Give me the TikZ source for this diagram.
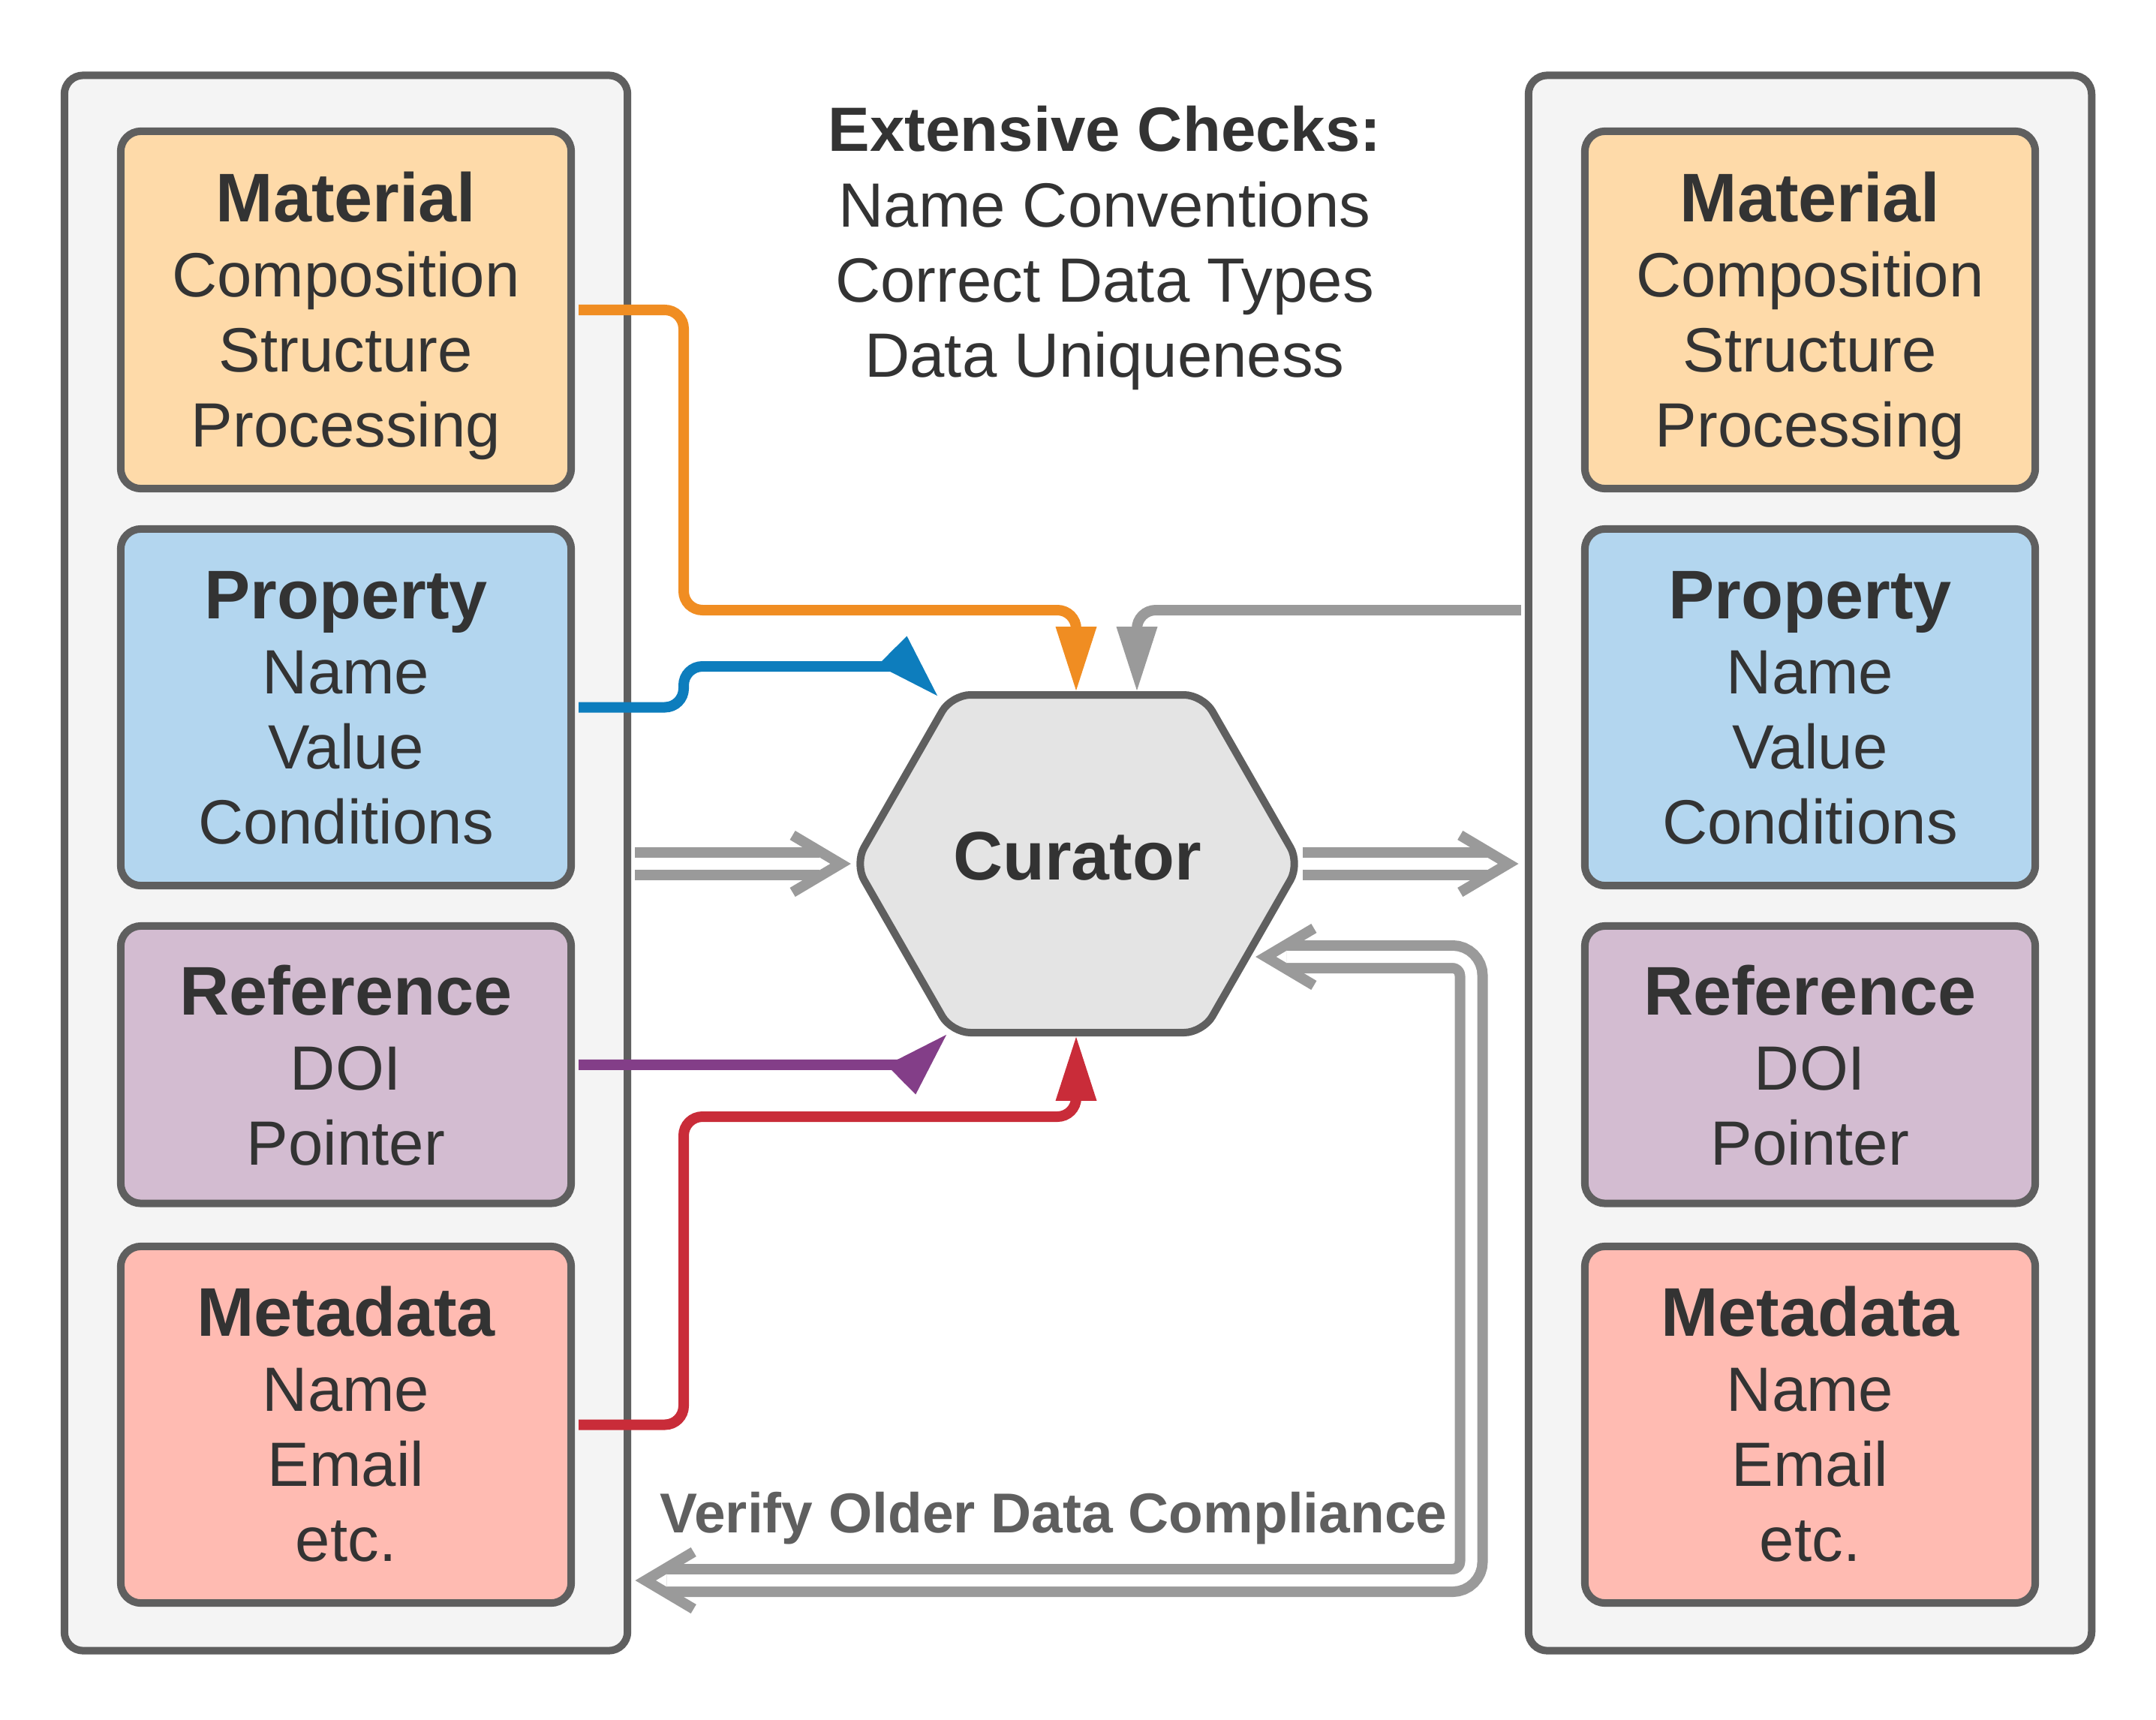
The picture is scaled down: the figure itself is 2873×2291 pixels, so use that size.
\documentclass[tikz,border=0pt]{standalone}
\usepackage{fontspec}
\setmainfont{Liberation Sans}
\usetikzlibrary{arrows.meta,calc}
\definecolor{strokeg}{HTML}{5F5F5F}
\definecolor{panelf}{HTML}{F4F4F4}
\definecolor{txt}{HTML}{333333}
\definecolor{matf}{HTML}{FEDAA9}
\definecolor{propf}{HTML}{B3D6EF}
\definecolor{reff}{HTML}{D3BCD1}
\definecolor{metaf}{HTML}{FFBBB2}
\definecolor{hexf}{HTML}{E4E4E4}
\definecolor{corange}{HTML}{F08D22}
\definecolor{cblue}{HTML}{0D7DBD}
\definecolor{cpurple}{HTML}{833E88}
\definecolor{cred}{HTML}{C92C39}
\definecolor{cgray}{HTML}{9A9A9A}
\newcommand\bodyfont{\fontsize{23.7pt}{28.45pt}\selectfont}
\newcommand\titlefont{\fontsize{26.1pt}{28.45pt}\selectfont\bfseries}
\begin{document}
\begin{tikzpicture}[x=0.01cm,y=-0.01cm]
\tikzset{
 panel/.style={draw=strokeg, fill=panelf, line width=0.1cm, rounded corners=0.25cm, minimum width=7.5cm, minimum height=20.98cm, inner sep=0pt},
 databox/.style={draw=strokeg, line width=0.1cm, rounded corners=0.27cm, minimum width=6cm, inner sep=0pt},
 boxtext/.style={anchor=base, inner sep=0pt, text=txt, font=\bodyfont},
 conn/.style={line width=0.14cm, rounded corners=0.25cm, shorten <=0.05cm, -{Triangle[length=0.85cm,width=0.55cm,line width=0pt]}},
 dbl/.style={draw=cgray, line width=0.14cm, double=white, double distance=0.16cm, rounded corners=0.25cm},
 chev/.style={draw=cgray, line width=0.14cm, miter limit=10},
}
\useasboundingbox (0,0) rectangle (2873,2291);
% panels
\node[panel] (lpanel) at (461,1150) {};
\node[panel] (rpanel) at (2412,1150) {};
% boxes
\foreach \s/\xc in {l/461,r/2412}{
  \node[databox, fill=matf, minimum height=4.76cm] (\s mat) at (\xc,413) {};
  \node[boxtext] (\s matT) at ($(\s mat.center)+(0,-118)$) {\begin{tabular}[t]{@{}c@{}}{\titlefont Material}\\Composition\\Structure\\Processing\end{tabular}};
  \node[databox, fill=propf, minimum height=4.75cm] (\s prop) at (\xc,942.5) {};
  \node[boxtext] (\s propT) at ($(\s prop.center)+(0,-118)$) {\begin{tabular}[t]{@{}c@{}}{\titlefont Property}\\Name\\Value\\Conditions\end{tabular}};
  \node[databox, fill=reff, minimum height=3.695cm] (\s ref) at (\xc,1418.75) {};
  \node[boxtext] (\s refT) at ($(\s ref.center)+(0,-66)$) {\begin{tabular}[t]{@{}c@{}}{\titlefont Reference}\\DOI\\Pointer\end{tabular}};
  \node[databox, fill=metaf, minimum height=4.75cm] (\s meta) at (\xc,1898.5) {};
  \node[boxtext] (\s metaT) at ($(\s meta.center)+(0,-118)$) {\begin{tabular}[t]{@{}c@{}}{\titlefont Metadata}\\Name\\Email\\etc.\end{tabular}};
}
% checks text
\node[boxtext] (checks) at (1472,202) {\begin{tabular}[t]{@{}c@{}}\textbf{Extensive Checks:}\\Name Conventions\\Correct Data Types\\Data Uniqueness\end{tabular}};
% hexagon
\draw[draw=strokeg, fill=hexf, line width=0.1cm, rounded corners=0.25cm]
  (1139,1151) -- (1268,926) -- (1603,926) -- (1732,1151) -- (1603,1376) -- (1268,1376) -- cycle;
\node[minimum width=5.93cm, minimum height=4.5cm, inner sep=0pt, text=txt,
  font=\fontsize{26pt}{30pt}\selectfont\bfseries, text height=0.64cm, text depth=0.22cm] (hex) at (1435.5,1151) {Curator};
% coordinates
\coordinate (otip) at ($(hex.north)+(-1.5,-5)$);
\coordinate (gtip) at ($(hex.north)+(79.5,-5)$);
\coordinate (btip) at ($(hex.north west)+(111,2)$);
\coordinate (ptip) at ($(hex.south west)+(123,2)$);
\coordinate (rtip) at ($(hex.south)+(-1.5,5)$);
\coordinate (gsrc) at ($(rpanel.west)+(0,-337)$);
\coordinate (lchev) at ($(hex.west)+(-18,0)$);
\coordinate (rchev) at ($(rpanel.west)+(-22,1)$);
\coordinate (fbR) at ($(hex.east)+(-46,124)$);
\coordinate (fbL) at ($(lpanel.east)+(19,956)$);
% coloured connectors
\draw[conn, corange] (lmat.east) -- (911,413) -- (911,813) -- (1434,813) -- (otip);
\draw[conn, cgray] (gsrc) -- (1515,813) -- (gtip);
\draw[conn, cblue] (lprop.east) -- (911,942.5) -- (911,888) -- (1210,888) -- (btip);
\draw[conn, cpurple] (lref.east) -- (1221,1418.75) -- (ptip);
\draw[conn, cred] (lmeta.east) -- (911,1898.5) -- (911,1488) -- (1434,1488) -- (rtip);
% double arrows
\draw[dbl, shorten <=0.05cm, shorten >=0.28cm] (lpanel.east |- lchev) -- (lchev);
\draw[chev] ($(lchev)+(-64,-38)$) -- (lchev) -- ($(lchev)+(-64,38)$);
\draw[dbl, shorten <=0.03cm, shorten >=0.28cm] (hex.east) -- (rchev);
\draw[chev] ($(rchev)+(-64,-38)$) -- (rchev) -- ($(rchev)+(-64,38)$);
\draw[dbl, shorten <=0.28cm, shorten >=0.28cm] (fbR) -- (1960.5,1275) -- (1960.5,2106) -- (fbL);
\draw[chev] ($(fbR)+(64,-38)$) -- (fbR) -- ($(fbR)+(64,38)$);
\draw[chev] ($(fbL)+(64,-38)$) -- (fbL) -- ($(fbL)+(64,38)$);
% label
\node[anchor=base, text=strokeg, font=\fontsize{21.3pt}{25pt}\selectfont\bfseries, inner sep=0pt] (verify) at (1404,2042) {Verify Older Data Compliance};
\end{tikzpicture}
\end{document}
